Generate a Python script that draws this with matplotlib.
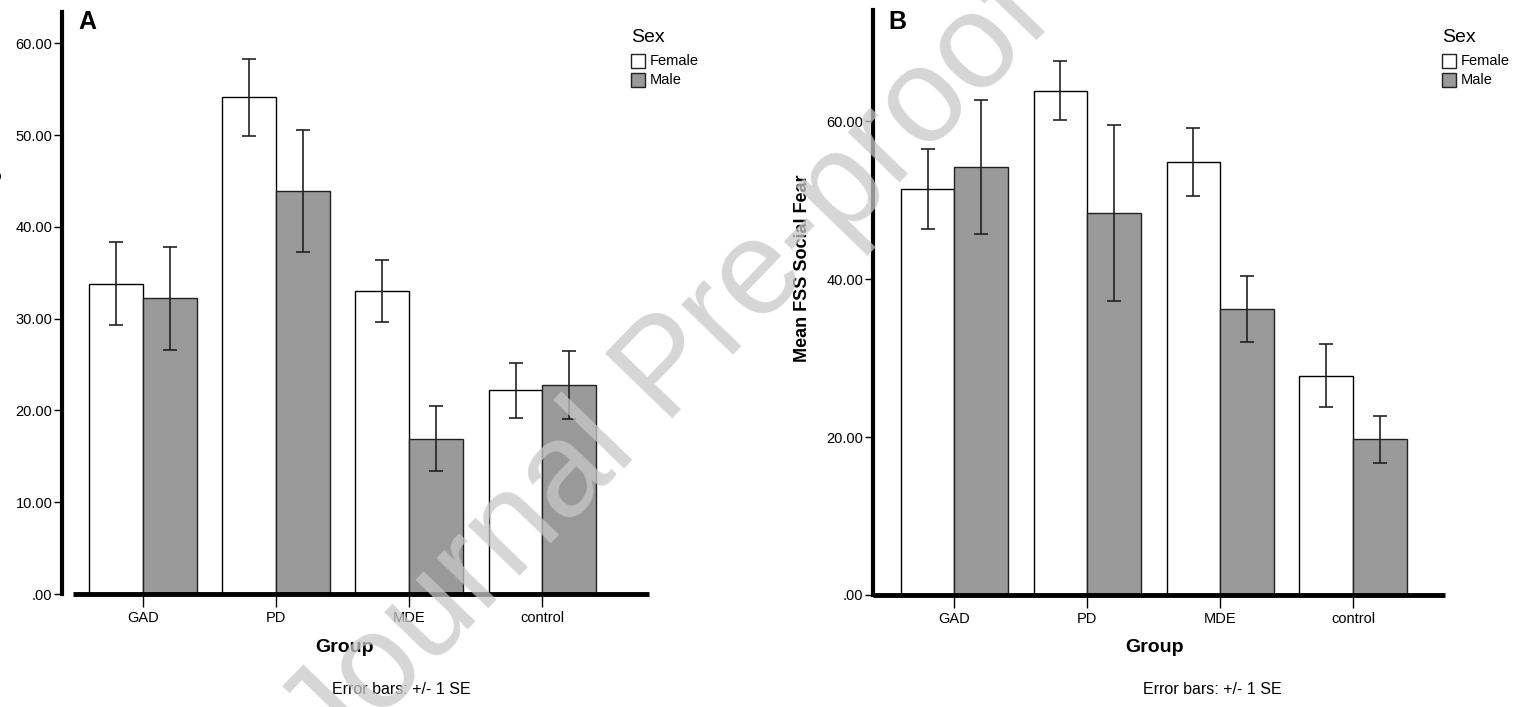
import numpy as np
import matplotlib
matplotlib.use("Agg")
import matplotlib.pyplot as plt
from matplotlib.patches import Rectangle
from matplotlib.ticker import FuncFormatter

plt.rcParams["font.family"] = ["Liberation Sans", "DejaVu Sans"]

# Data
groups = ["GAD", "PD", "MDE", "control"]
sexes = ["Female", "Male"]

# Panel A (label cut off in the source)
a_female = [33.8, 54.1, 33.0, 22.2]
a_male = [32.2, 43.9, 16.9, 22.8]
a_female_se = [4.55, 4.2, 3.35, 3.0]
a_male_se = [5.65, 6.65, 3.55, 3.7]

# Panel B: Mean FSS Social Fear
b_female = [51.4, 63.9, 54.8, 27.8]
b_male = [54.2, 48.4, 36.2, 19.7]
b_female_se = [5.05, 3.75, 4.3, 3.95]
b_male_se = [8.5, 11.1, 4.2, 3.0]

W, H = 1528, 707
fig = plt.figure(figsize=(W / 100, H / 100), dpi=100)


def fx(px):
    return px / W


def fy(py):
    return 1 - py / H


def fmt(v, pos):
    s = "%.2f" % v
    return s[1:] if s.startswith("0") else s


def panel(rect, fem, mal, fse, mse, ymax, yticks, xlim, xline_start):
    ax = fig.add_axes(rect)
    x = np.arange(len(groups))
    w = 0.405
    ax.bar(x - w / 2, fem, w, color="white", edgecolor="black", linewidth=1.0, zorder=2)
    ax.bar(x + w / 2, mal, w, color="#999999", edgecolor="#222222", linewidth=1.0, zorder=2)
    ax.errorbar(x - w / 2, fem, yerr=fse, fmt="none", ecolor="#222222",
                elinewidth=1.2, capsize=5, capthick=1.2, zorder=3)
    ax.errorbar(x + w / 2, mal, yerr=mse, fmt="none", ecolor="#222222",
                elinewidth=1.2, capsize=5, capthick=1.2, zorder=3)
    ax.set_xlim(*xlim)
    ax.set_ylim(0, ymax)
    for s in ["top", "right", "bottom"]:
        ax.spines[s].set_visible(False)
    ax.spines["left"].set_linewidth(3)
    ax.spines["left"].set_bounds(0, ymax)
    ax.plot([xline_start, xlim[1]], [0, 0], color="black", lw=3.5,
            solid_capstyle="butt", clip_on=False, zorder=4)
    ax.set_yticks(yticks)
    ax.yaxis.set_major_formatter(FuncFormatter(fmt))
    ax.set_xticks(x)
    ax.set_xticklabels(groups)
    ax.tick_params(axis="y", length=6, width=1, pad=1, labelsize=10.5)
    ax.tick_params(axis="x", length=9, width=1, pad=3, labelsize=10.5)
    return ax


# x pixel -> category units: tick 0 at px 143 (A) / 954.6 (B), 133.3 px per group
axA = panel([fx(62), fy(594), fx(649) - fx(62), fy(12) - fy(594)],
            a_female, a_male, a_female_se, a_male_se,
            63.4, np.arange(0, 61, 10), (-0.608, 3.8), -0.525)
axB = panel([fx(873), fy(595), fx(1445) - fx(873), fy(10) - fy(595)],
            b_female, b_male, b_female_se, b_male_se,
            74.1, np.arange(0, 61, 20), (-0.613, 3.69), -0.613)

# panel letters
fig.text(fx(78), fy(22), "A", fontsize=18, fontweight="bold", va="center")
fig.text(fx(888), fy(22), "B", fontsize=18, fontweight="bold", va="center")

# axis titles
for cx in (344, 1154):
    fig.text(fx(cx), fy(648), "Group", fontsize=14, fontweight="bold", ha="center", va="center")
fig.text(fx(401), fy(690), "Error bars: +/- 1 SE", fontsize=11.5, ha="center", va="center")
fig.text(fx(1212), fy(690), "Error bars: +/- 1 SE", fontsize=11.5, ha="center", va="center")
fig.text(fx(803), fy(268), "Mean FSS Social Fear", fontsize=13, fontweight="bold",
         rotation=90, ha="center", va="center")
fig.text(fx(-6), fy(250), "Mean FSS Tissue Damage Fear", fontsize=13, fontweight="bold",
         rotation=90, ha="center", va="center")

# legends
for lx in (631, 1442):
    fig.text(fx(lx), fy(37), "Sex", fontsize=14, va="center")
    for i, (lab, col) in enumerate(zip(sexes, ["white", "#999999"])):
        yy = 61 + 19 * i
        fig.add_artist(Rectangle((fx(lx), fy(yy + 7)), fx(14), 14 / H, facecolor=col,
                                 edgecolor="#222222", lw=1, transform=fig.transFigure))
        fig.text(fx(lx + 19), fy(yy), lab, fontsize=10.5, va="center")

# watermark
fig.text(fx(668), fy(372), "Journal Pre-proof", fontsize=97, color="#c8c8c8", alpha=0.75,
         rotation=46, ha="center", va="center", rotation_mode="anchor", zorder=10)

fig.savefig("out.png", dpi=100)
